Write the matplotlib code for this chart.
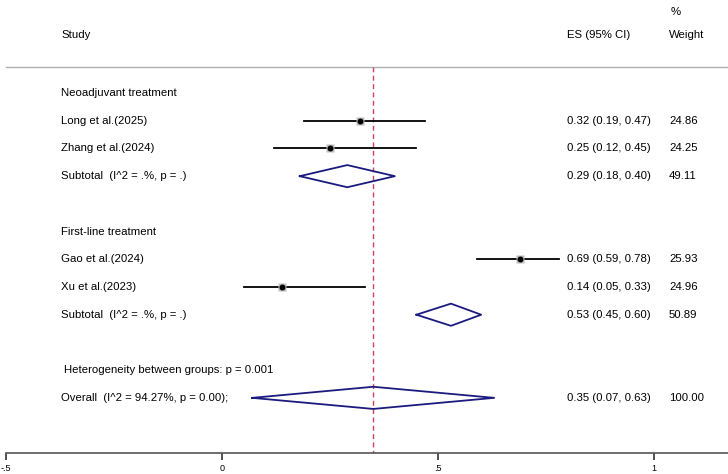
import numpy as np
import matplotlib.pyplot as plt

plt.rcParams['font.family'] = ['Liberation Sans', 'DejaVu Sans']

# Study level data
studies = ["Long et al.(2025)", "Zhang et al.(2024)", "Gao et al.(2024)", "Xu et al.(2023)"]
es = [0.32, 0.25, 0.69, 0.14]
ci_low = [0.19, 0.12, 0.59, 0.05]
ci_high = [0.47, 0.45, 0.78, 0.33]
weights = [24.86, 24.25, 25.93, 24.96]

# Subgroups
groups = ["Neoadjuvant treatment", "First-line treatment"]
sub_es = [0.29, 0.53]
sub_low = [0.18, 0.45]
sub_high = [0.40, 0.60]
sub_weight = [49.11, 50.89]
sub_label = "Subtotal  (I^2 = .%, p = .)"

# Overall
overall_es = 0.35
overall_low = 0.07
overall_high = 0.63
overall_weight = 100.00
overall_label = "Overall  (I^2 = 94.27%, p = 0.00);"
het_label = "Heterogeneity between groups: p = 0.001"

ticks = [-0.5, 0, 0.5, 1]
tick_labels = ["-.5", "0", ".5", "1"]

# rows (0 = first group heading)
study_rows = [1, 2, 6, 7]
group_rows = [0, 5]
sub_rows = [3, 8]
het_row = 10
overall_row = 11

navy = "#1b1b7f"
fs = 8.2

fig = plt.figure(figsize=(7.28, 4.74), dpi=100)
ax = fig.add_axes([0, 21 / 474, 1, 453 / 474])

# pixel -> data helper for the x layout
def px(x):
    return (x - 222) / 432.0

ax.set_xlim(px(0), px(728))
ax.set_ylim(12.99, -3.357)

for s in ["top", "left", "right"]:
    ax.spines[s].set_visible(False)
ax.spines["bottom"].set_color("#555555")
ax.spines["bottom"].set_linewidth(1.2)
ax.spines["bottom"].set_bounds(-0.5, px(728))
ax.set_yticks([])
ax.set_xticks(ticks)
ax.set_xticklabels(tick_labels, fontsize=6.5)
ax.tick_params(axis="x", direction="out", length=5, width=1.2, color="#333333", pad=3)

# header
ax.text(px(61), -2.09, "Study", fontsize=fs, va="center")
ax.text(px(567), -2.09, "ES (95% CI)", fontsize=fs, va="center")
ax.text(px(669), -2.09, "Weight", fontsize=fs, va="center")
ax.text(px(671), -2.92, "%", fontsize=fs, va="center")
ax.plot([px(6), px(728)], [-0.94, -0.94], color="#b0b0b0", lw=1.0)

# overall effect line
ax.plot([overall_es, overall_es], [-0.94, 12.99], color="#c8435c", lw=1.0, ls=(0, (3.5, 2.5)))

# group headings
for g, r in zip(groups, group_rows):
    ax.text(px(61), r, g, fontsize=fs, va="center")

# studies
for name, e, lo, hi, w, r in zip(studies, es, ci_low, ci_high, weights, study_rows):
    ax.text(px(61), r, name, fontsize=fs, va="center")
    ax.plot([lo, hi], [r, r], color="black", lw=1.3, zorder=2)
    ax.plot(e, r, marker="s", ms=np.sqrt(w) * 1.05, color="#bdbdbd", mec="none", zorder=3)
    ax.plot(e, r, marker="o", ms=3.3, color="black", zorder=4)
    ax.text(px(567), r, f"{e:.2f} ({lo:.2f}, {hi:.2f})", fontsize=fs, va="center")
    ax.text(px(669), r, f"{w:.2f}", fontsize=fs, va="center")

def diamond(e, lo, hi, r, h=0.4):
    ax.plot([lo, e, hi, e, lo], [r, r - h, r, r + h, r], color=navy, lw=1.3, zorder=3)

# subtotals
for e, lo, hi, w, r in zip(sub_es, sub_low, sub_high, sub_weight, sub_rows):
    ax.text(px(61), r, sub_label, fontsize=fs, va="center")
    diamond(e, lo, hi, r)
    ax.text(px(567), r, f"{e:.2f} ({lo:.2f}, {hi:.2f})", fontsize=fs, va="center")
    ax.text(px(669), r, f"{w:.2f}", fontsize=fs, va="center")

# overall
ax.text(px(64), het_row, het_label, fontsize=fs, va="center")
ax.text(px(61), overall_row, overall_label, fontsize=fs, va="center")
diamond(overall_es, overall_low, overall_high, overall_row)
ax.text(px(567), overall_row, f"{overall_es:.2f} ({overall_low:.2f}, {overall_high:.2f})", fontsize=fs, va="center")
ax.text(px(669), overall_row, f"{overall_weight:.2f}", fontsize=fs, va="center")

fig.savefig("out.png", dpi=100)
